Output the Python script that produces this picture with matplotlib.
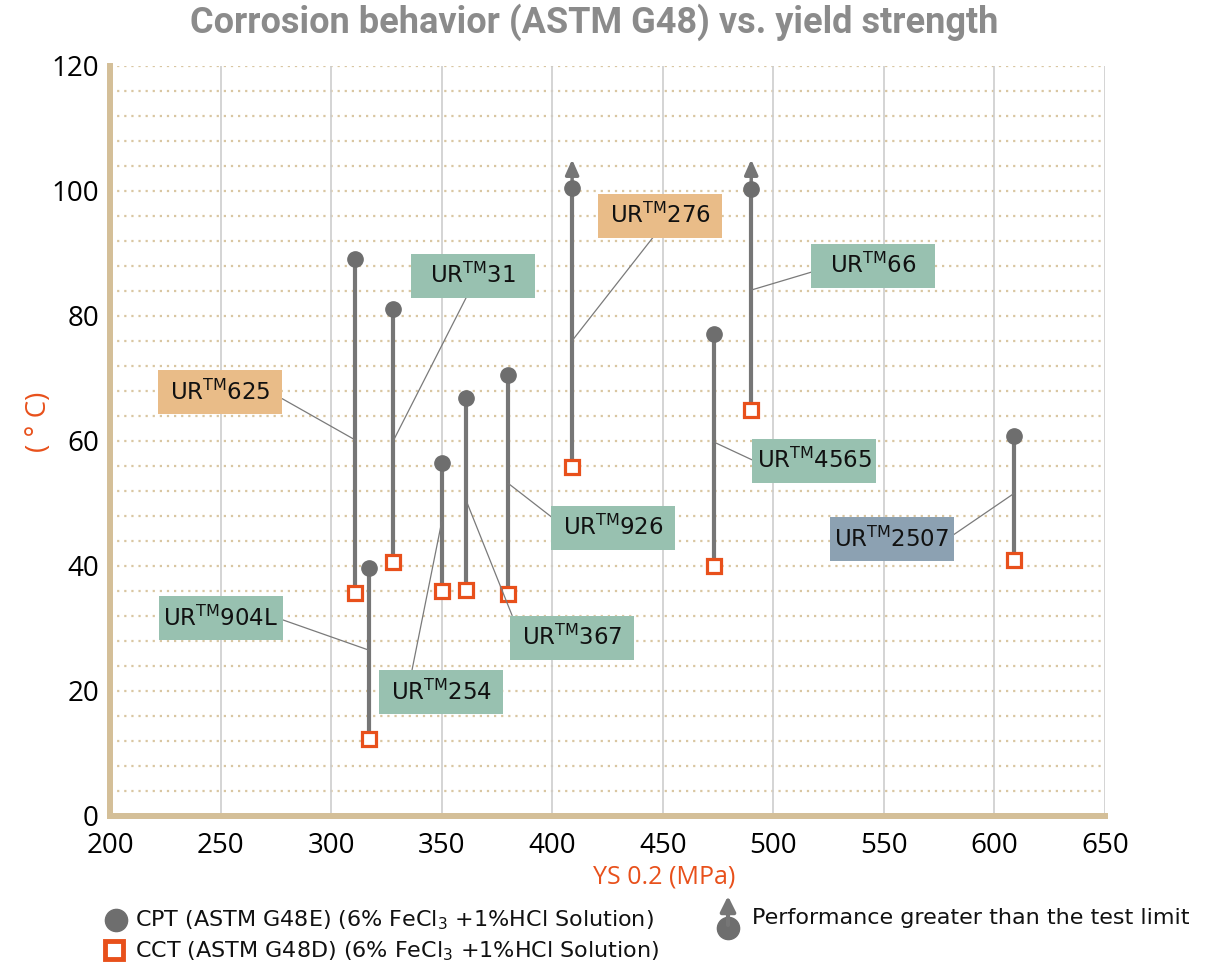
import matplotlib
matplotlib.use('Agg')
import matplotlib.pyplot as plt
import numpy as np
from matplotlib.path import Path

# values
grades = ['625', '31', '276', '66', '4565', '926', '367', '254', '904L', '2507']
ys02 = [311, 328, 409, 490, 473, 380, 361, 350, 317, 609]          # YS 0.2 (MPa)
cpt = [89.1, 81.0, 100.5, 100.3, 77.0, 70.5, 66.8, 56.5, 39.7, 60.7]  # CPT (°C)
cct = [35.7, 40.6, 55.8, 64.9, 40.0, 35.4, 36.1, 36.0, 12.2, 40.9]    # CCT (°C)
over_limit = [False, False, True, True, False, False, False, False, False, False]
limit_tip = 105.0

# label boxes: centre (data), point on stem where the leader line ends
label_x = [249.8, 364.0, 448.8, 545.3, 518.4, 427.7, 409.0, 349.9, 250.0, 553.5]
label_y = [67.8, 86.4, 96.0, 88.0, 56.8, 46.1, 28.5, 19.8, 31.6, 44.3]
leader_y = [60.1, 59.9, 76.0, 84.1, 59.8, 53.2, 50.5, 47.0, 26.5, 51.6]
relpos = [(1, 0.5), (0.48, 0), (0.5, 0), (0, 0.47), (0, 0.45),
          (0, 0.56), (0, 0.4), (0.19, 1), (1, 0.5), (1, 0.54)]
GREEN, ORANGE, BLUE = '#98c1b0', '#e9bc88', '#8ca1b2'
box_colors = [ORANGE, GREEN, ORANGE, GREEN, GREEN, GREEN, GREEN, GREEN, GREEN, BLUE]

xticks = [200, 250, 300, 350, 400, 450, 500, 550, 600, 650]
yticks = [0, 20, 40, 60, 80, 100, 120]
ygrid = np.arange(4, 121, 4)

STEM = '#767676'
DOT = '#6e6e6e'
RED = '#e8501b'
TAN = '#d4bf98'

BOX_W, BOX_H = 124, 44


def label_box(x0, y0, width, height, mutation_size):
    cx = x0 + width / 2
    cy = y0 + height / 2
    w, h = BOX_W / 2, BOX_H / 2
    return Path([(cx - w, cy - h), (cx + w, cy - h), (cx + w, cy + h),
                 (cx - w, cy + h), (cx - w, cy - h)], closed=True)


fig = plt.figure(figsize=(12.25, 9.67), dpi=100)
ax = fig.add_axes([110 / 1225, 1 - 815.7 / 967, 995 / 1225, 750 / 967])
ax.set_xlim(200, 650)
ax.set_ylim(0, 120)

# grid
for yv in ygrid:
    ax.axhline(yv, color='#d9c6a1', lw=1.6, ls=(0, (1, 2.2)), zorder=0)
for xv in xticks[1:]:
    ax.axvline(xv, color='#cdcdcd', lw=1.2, zorder=0)

for s in ['top', 'right']:
    ax.spines[s].set_visible(False)
for s in ['left', 'bottom']:
    ax.spines[s].set_color(TAN)
    ax.spines[s].set_linewidth(4.3)
    ax.spines[s].set_capstyle('projecting')

ax.set_xticks(xticks)
ax.set_yticks(yticks)
ax.tick_params(length=0, labelsize=20)
ax.tick_params(axis='y', pad=8)
ax.tick_params(axis='x', pad=12)
for t in ax.get_xticklabels() + ax.get_yticklabels():
    t.set_fontfamily('Open Sans')

# stems, markers
ax.vlines(ys02, cct, cpt, color=STEM, lw=3, zorder=3)
for x, top, over in zip(ys02, cpt, over_limit):
    if over:
        ax.annotate('', xy=(x, limit_tip), xytext=(x, top),
                    arrowprops=dict(arrowstyle='-|>,head_length=0.9,head_width=0.4',
                                    color=STEM, lw=2.5, shrinkA=0, shrinkB=0),
                    zorder=3)
ax.plot(ys02, cpt, 'o', ms=11, color=DOT, zorder=4, ls='none')
ax.plot(ys02, cct, 's', ms=10, mfc='white', mec=RED, mew=2.3, zorder=4, ls='none')

# labels
for g, x, lx, ly, sy, rp, c in zip(grades, ys02, label_x, label_y, leader_y, relpos, box_colors):
    ax.annotate('UR$^{\\mathrm{TM}}$' + g, xy=(x, sy), xytext=(lx, ly),
                ha='center', va='center', fontsize=16.5, color='#111111',
                bbox=dict(boxstyle=label_box, fc=c, ec='none'),
                arrowprops=dict(arrowstyle='-', color='#7a7a7a', lw=0.9,
                                shrinkA=0, shrinkB=0, relpos=rp),
                zorder=5)

# overlay in picture pixels for title, axis labels and legend
lax = fig.add_axes([0, 0, 1, 1])
lax.set_xlim(0, 1225)
lax.set_ylim(967, 0)
lax.set_axis_off()

lax.text(594, 22, 'Corrosion behavior (ASTM G48) vs. yield strength', ha='center',
         va='center', fontsize=26, weight='bold', color='#8b8b8b',
         family='Roboto')
lax.text(664, 877, 'YS 0.2 (MPa)', ha='center', va='center', fontsize=18,
         color=RED, family='Open Sans')
lax.text(39, 422, '( ° C)', ha='center', va='center', fontsize=20, rotation=90,
         color=RED, family='Open Sans')

lax.plot([116], [920], 'o', ms=16, color=DOT)
lax.text(135, 920, 'CPT (ASTM G48E) (6% FeCl$_3$ +1%HCl Solution)', va='center',
         fontsize=16, color='#111111')
lax.plot([114], [950], 's', ms=13.5, mfc='white', mec=RED, mew=3.5)
lax.text(135, 951, 'CCT (ASTM G48D) (6% FeCl$_3$ +1%HCl Solution)', va='center',
         fontsize=16, color='#111111')
lax.annotate('', xy=(728, 896), xytext=(728, 925),
             arrowprops=dict(arrowstyle='-|>,head_length=0.9,head_width=0.45',
                             color=STEM, lw=3, shrinkA=0, shrinkB=0))
lax.plot([728], [928], 'o', ms=16, color=DOT)
lax.text(752, 918, 'Performance greater than the test limit', va='center',
         fontsize=16, color='#111111')

fig.savefig('out.png', dpi=100)
